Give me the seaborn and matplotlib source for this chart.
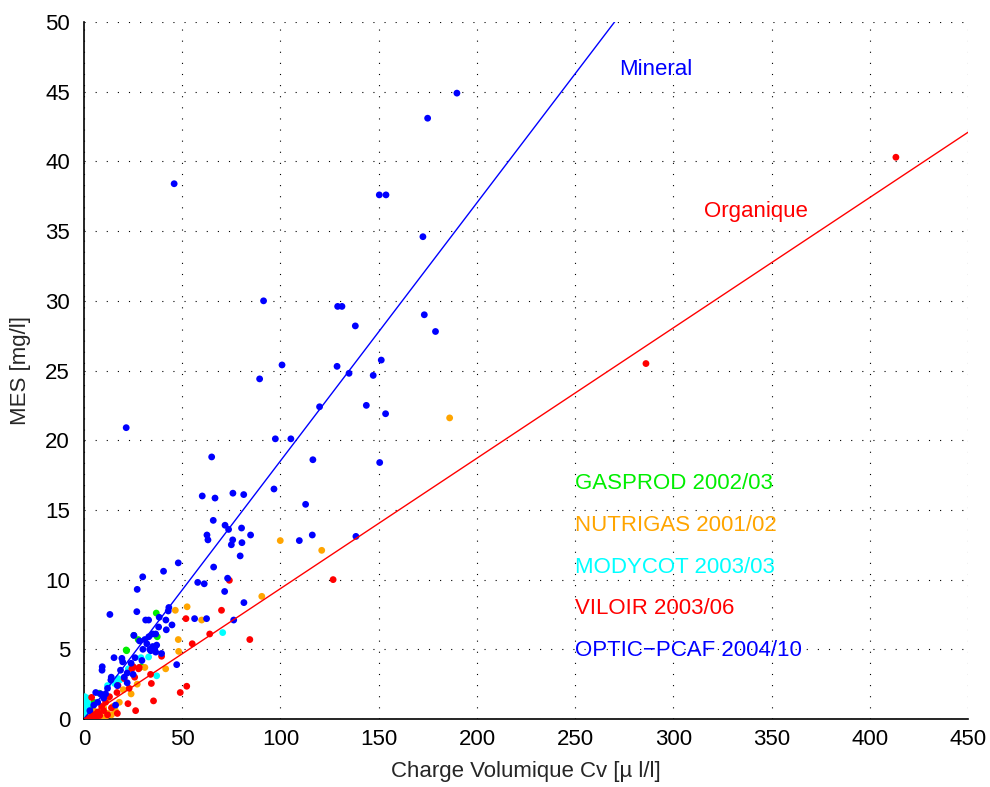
import numpy as np
import pandas as pd
import matplotlib
matplotlib.use("Agg")
import matplotlib.pyplot as plt
import seaborn as sns

# --- data ---
campaigns = ["GASPROD 2002/03", "NUTRIGAS 2001/02", "MODYCOT 2003/03", "VILOIR 2003/06", "OPTIC\u2212PCAF 2004/10"]
colors = ["#00ee00", "#ffa500", "#00ffff", "#ff0000", "#0000ff"]

gasprod_x = [25.4, 21.5, 36.8, 37.3, 27.6, 21.7, 29.2, 28.5, 7.8, 3.0, 5.0]
gasprod_y = [6.0, 4.95, 7.6, 5.9, 5.7, 4.9, 3.75, 3.7, 1.85, 0.8, 1.2]

nutrigas_x = [186.1, 99.9, 121.0, 90.5, 52.5, 46.5, 59.9, 48.0, 48.2, 41.6, 31.0, 27.1, 12.2, 14.8,
              2.0, 4.0, 6.0, 8.0, 10.0, 12.0, 18.0, 5.0, 9.0, 3.0, 20.0, 11.0, 7.1, 3.4, 14.0, 24.0, 16.0]
nutrigas_y = [21.6, 12.8, 12.1, 8.8, 8.05, 7.8, 7.1, 5.7, 4.85, 3.6, 3.7, 2.5, 1.5, 0.9,
              0.1, 0.3, 0.2, 0.5, 0.8, 0.4, 1.2, 0.6, 0.1, 0.2, 2.1, 0.15, 0.4, 0.1, 0.3, 1.8, 0.6]

modycot_x = [70.6, 29.0, 32.9, 22.6, 37.0, 0.5, 1.0, 1.5, 0.8, 2.0, 1.2, 2.5, 3.0, 0.3, 1.8,
             17.3, 18.3, 12.0, 15.6, 0.6, 1.4, 0.4, 2.2]
modycot_y = [6.2, 4.4, 4.45, 3.6, 3.1, 0.2, 0.5, 0.9, 1.3, 1.1, 0.1, 0.6, 0.3, 0.7, 1.5,
             2.9, 2.8, 2.4, 2.55, 1.0, 0.35, 1.6, 0.2]

viloir_x = [413.2, 286.0, 126.8, 74.0, 70.0, 51.9, 64.0, 84.4, 55.1, 25.1, 28.1, 33.9, 25.8, 34.3,
            52.3, 49.0, 35.4, 22.4, 26.3, 17.0, 3.9, 39.5, 20.5, 16.8, 13.0, 11.0, 9.0, 7.0, 5.0,
            3.0, 4.0, 6.0, 8.0, 10.0, 12.0, 14.0, 2.0, 17.3, 23.0, 27.8, 24.4]
viloir_y = [40.3, 25.5, 10.0, 9.95, 7.8, 7.2, 6.1, 5.7, 5.4, 3.75, 3.7, 3.2, 3.0, 2.55,
            2.35, 1.9, 1.3, 1.1, 0.6, 0.4, 1.55, 4.5, 2.9, 1.9, 1.6, 1.2, 0.9, 0.5, 0.3,
            0.1, 0.2, 0.05, 0.25, 0.6, 0.3, 0.8, 0.05, 2.4, 2.2, 3.6, 3.6]

optic_x = [45.9, 189.8, 174.9, 150.3, 153.7, 172.5, 91.4, 129.1, 131.3, 173.2, 138.1, 178.9, 100.8,
           128.8, 151.3, 134.9, 147.2, 89.4, 119.9, 143.7, 153.5, 97.4, 105.3, 116.5, 150.5, 96.7,
           112.8, 116.2, 109.6, 138.4, 21.5, 65.0, 60.2, 66.7, 75.8, 81.3, 65.8, 71.8, 73.6, 80.2,
           62.6, 63.1, 75.7, 75.0, 80.4, 84.8, 79.5, 48.0, 40.5, 66.0, 29.9, 57.9, 61.2, 73.1, 27.1,
           71.6, 81.4, 13.2, 26.9, 43.2, 42.9, 38.3, 31.4, 32.9, 41.7, 56.3, 62.4, 76.2, 44.8, 41.9,
           25.4, 28.3, 31.0, 33.0, 35.0, 36.5, 35.0, 36.0, 37.0, 34.0, 36.5, 33.5, 32.0, 30.0, 39.5,
           47.2, 15.3, 19.3, 19.7, 9.3, 9.2, 18.6, 22.0, 13.7, 13.9, 16.1, 6.0, 8.5, 24.0, 20.5,
           26.0, 12.0, 10.0, 5.0, 3.0, 7.0, 11.0, 17.0, 22.0, 25.0, 29.5, 38.0]
optic_y = [38.4, 44.9, 43.1, 37.6, 37.6, 34.6, 30.0, 29.6, 29.6, 29.0, 28.2, 27.8, 25.4,
           25.3, 25.75, 24.8, 24.65, 24.4, 22.4, 22.5, 21.9, 20.1, 20.1, 18.6, 18.4, 16.5,
           15.4, 13.2, 12.8, 13.1, 20.9, 18.8, 16.0, 15.85, 16.2, 16.1, 14.25, 13.9, 13.6, 13.7,
           13.2, 12.85, 12.85, 12.5, 12.65, 13.2, 11.7, 11.2, 10.6, 10.9, 10.2, 9.8, 9.7, 10.1, 9.3,
           9.15, 8.35, 7.5, 7.7, 8.0, 7.75, 7.3, 7.1, 7.1, 7.1, 7.2, 7.2, 7.1, 6.75, 6.4,
           6.0, 5.6, 5.7, 5.9, 6.1, 6.1, 5.2, 5.0, 5.3, 4.9, 4.8, 5.0, 5.4, 5.0, 4.7,
           3.9, 4.4, 4.35, 4.1, 3.75, 3.5, 3.5, 3.3, 2.8, 3.0, 1.0, 1.9, 1.8, 4.0, 3.0,
           4.4, 2.2, 1.5, 1.0, 0.6, 1.2, 1.8, 2.4, 2.6, 3.2, 4.2, 6.6]

slope_mineral = 50 / 270.0
slope_organique = 42.1 / 450.0

xs = [gasprod_x, nutrigas_x, modycot_x, viloir_x, optic_x]
ys = [gasprod_y, nutrigas_y, modycot_y, viloir_y, optic_y]
frames = []
for name, x, y in zip(campaigns, xs, ys):
    frames.append(pd.DataFrame({"cv": x, "mes": y, "campagne": name}))
df = pd.concat(frames, ignore_index=True)

sns.set_style("white")
plt.rcParams['font.family'] = ['Liberation Sans', 'DejaVu Sans']
fs = 16

fig = plt.figure(figsize=(9.9, 7.87), dpi=100)
ax = fig.add_axes([0.0848, 0.0864, 0.8932, 0.8856])

sns.scatterplot(data=df, x="cv", y="mes", hue="campagne", hue_order=campaigns,
                palette=colors, s=24, linewidth=0, legend=False, ax=ax, zorder=3)

xl = np.array([0, 450])
sns.lineplot(x=xl, y=slope_mineral * xl, color="#0000ff", linewidth=1.0, ax=ax, zorder=4)
sns.lineplot(x=xl, y=slope_organique * xl, color="#ff0000", linewidth=1.0, ax=ax, zorder=4)

ax.text(291, 46.6, "Mineral", color="#0000ff", fontsize=fs, ha="center", va="center")
ax.text(342, 36.4, "Organique", color="#ff0000", fontsize=fs, ha="center", va="center")

for i, (name, c) in enumerate(zip(campaigns, colors)):
    ax.text(250, 16.9 - 3 * i, name, color=c, fontsize=fs, ha="left", va="center")

ax.set_xlim(0, 450)
ax.set_ylim(0, 50)
ax.set_xticks(np.arange(0, 451, 50))
ax.set_yticks(np.arange(0, 51, 5))
ax.grid(True, color="black", linestyle=(0, (1, 9)), linewidth=0.8)
ax.tick_params(direction="in", length=6, labelsize=fs, width=1, colors="black")
ax.tick_params(axis="x", pad=7)
ax.tick_params(axis="y", pad=10)
for side in ["top", "right"]:
    ax.spines[side].set_visible(False)
for side in ["left", "bottom"]:
    ax.spines[side].set_color("black")
    ax.spines[side].set_linewidth(1.2)

ax.set_xlabel("Charge Volumique Cv [\u00b5 l/l]", fontsize=fs, labelpad=8)
ax.set_ylabel("MES [mg/l]", fontsize=fs, labelpad=10)

fig.savefig("out.png", dpi=100)
